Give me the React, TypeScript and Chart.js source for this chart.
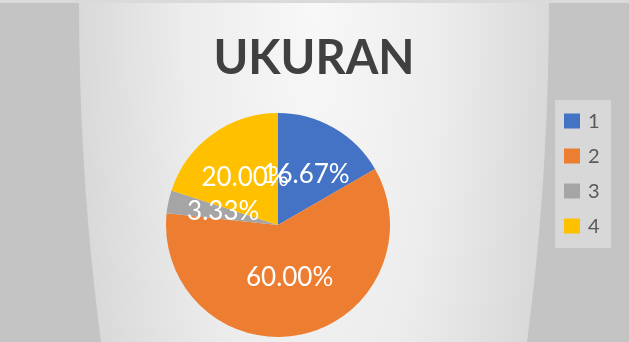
import React, { useEffect, useRef } from "react";
import { Chart, registerables } from "chart.js";

Chart.register(...registerables);

const categories = ["1", "2", "3", "4"];
const values = [16.67, 60.0, 3.33, 20.0];
const sliceColors = ["#4472C4", "#ED7D31", "#A5A5A5", "#FFC000"];
const titleText = "UKURAN";

const backgroundPlugin = {
  id: "bgPlugin",
  beforeDraw(chart: any) {
    const { ctx, width, height } = chart;
    ctx.save();
    ctx.fillStyle = "#c4c4c4";
    ctx.fillRect(0, 0, width, height);
    ctx.translate(314, 0);
    ctx.scale(1, 808 / 235);
    const g = ctx.createRadialGradient(0, 0, 0, 0, 0, 235);
    g.addColorStop(0, "#f8f8f8");
    g.addColorStop(0.55, "#ececec");
    g.addColorStop(1, "#d9d9d9");
    ctx.fillStyle = g;
    ctx.beginPath();
    ctx.arc(0, 0, 235, 0, Math.PI * 2);
    ctx.fill();
    ctx.restore();
    ctx.save();
    ctx.fillStyle = "#dadada";
    ctx.fillRect(0, 0, width, 3);
    ctx.restore();
  },
};

const titlePlugin = {
  id: "centerTitle",
  afterDraw(chart: any) {
    const { ctx } = chart;
    ctx.save();
    ctx.font = "bold 47px Lato";
    ctx.fillStyle = "#404040";
    ctx.textAlign = "center";
    ctx.textBaseline = "middle";
    ctx.fillText(titleText, 314, 59);
    ctx.restore();
  },
};

const labelPlugin = {
  id: "sliceLabels",
  afterDatasetsDraw(chart: any) {
    const { ctx } = chart;
    const meta = chart.getDatasetMeta(0);
    ctx.save();
    ctx.font = "26px Lato";
    ctx.fillStyle = "#ffffff";
    ctx.textAlign = "center";
    ctx.textBaseline = "middle";
    meta.data.forEach((arc: any, i: number) => {
      const p = arc.getProps(["x", "y", "startAngle", "endAngle", "outerRadius"], true);
      const mid = (p.startAngle + p.endAngle) / 2;
      const r = p.outerRadius * 0.5;
      const x = p.x + Math.cos(mid) * r;
      const y = p.y + Math.sin(mid) * r - 2;
      ctx.fillText(values[i].toFixed(2) + "%", x, y);
    });
    ctx.restore();
  },
};

const legendPlugin = {
  id: "boxLegend",
  afterDraw(chart: any) {
    const { ctx } = chart;
    ctx.save();
    ctx.fillStyle = "#d8d8d8";
    ctx.fillRect(555, 100, 56, 148);
    ctx.font = "20px Lato";
    ctx.textBaseline = "middle";
    ctx.textAlign = "left";
    categories.forEach((c, i) => {
      const cy = 121 + i * 35;
      ctx.fillStyle = sliceColors[i];
      ctx.fillRect(564, cy - 7.5, 16, 15);
      ctx.fillStyle = "#595959";
      ctx.fillText(c, 588, cy + 1);
    });
    ctx.restore();
  },
};

export default function App() {
  const ref = useRef<HTMLCanvasElement | null>(null);
  useEffect(() => {
    if (!ref.current) return;
    const chart = new Chart(ref.current, {
      type: "pie",
      data: {
        labels: categories,
        datasets: [
          {
            data: values,
            backgroundColor: sliceColors,
            borderWidth: 0,
          },
        ],
      },
      options: {
        animation: false,
        responsive: true,
        maintainAspectRatio: false,
        layout: { padding: { top: 113, left: 166, right: 239, bottom: 5 } },
        plugins: {
          legend: { display: false },
          tooltip: { enabled: false },
          title: { display: false },
        },
      },
      plugins: [backgroundPlugin, labelPlugin, legendPlugin, titlePlugin],
    });
    return () => chart.destroy();
  }, []);
  return (
    <div style={{ position: "absolute", left: 0, top: 0, width: 629, height: 342 }}>
      <canvas ref={ref} />
    </div>
  );
}
